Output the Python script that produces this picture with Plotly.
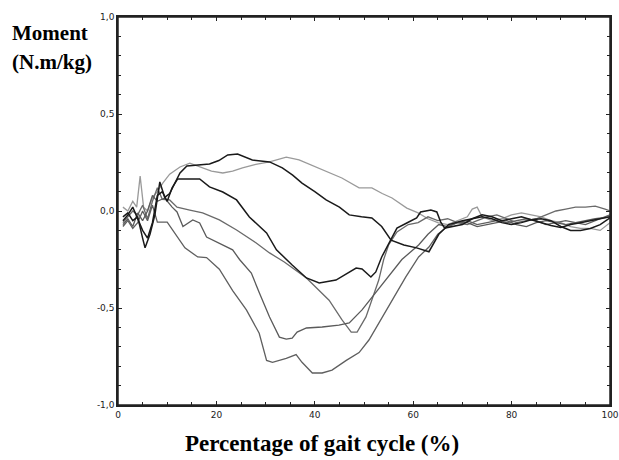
import plotly.graph_objects as go

# ---- data (x = % of gait cycle, y = moment N.m/kg) ----
a_x = [1, 2, 3, 4, 5, 5.5, 6.5, 7.5, 8.5, 9.5, 10.5, 11.5, 12.6, 14, 16, 18.6, 20.5, 22.3, 24.3, 27.3, 30.8, 33.4, 35.5, 37.4, 40, 42.3, 45, 47, 49.5, 51.6, 53.6, 55.5, 58.1, 60.7, 63.2, 65.2, 67.2, 70, 72, 74, 76, 78, 80, 82, 84, 86, 88, 90, 92, 94, 96, 98, 100]
a_y = [-0.03, -0.01, -0.05, -0.03, -0.14, -0.19, -0.12, -0.02, 0.15, 0.07, 0.09, 0.14, 0.196, 0.232, 0.235, 0.242, 0.26, 0.289, 0.294, 0.263, 0.253, 0.222, 0.185, 0.144, 0.1, 0.057, 0.02, -0.02, -0.03, -0.036, -0.08, -0.15, -0.175, -0.19, -0.21, -0.12, -0.07, -0.05, -0.04, -0.03, -0.04, -0.06, -0.07, -0.06, -0.045, -0.04, -0.05, -0.08, -0.1, -0.1, -0.09, -0.07, -0.035]

b_x = [1, 2, 3, 3.8, 4.5, 5.2, 6, 7, 8, 9.1, 10.5, 12.6, 14.6, 16.6, 19, 21.3, 23.3, 25.3, 28, 30.8, 34.2, 36.8, 39, 41.5, 43.5, 45.5, 49, 51.6, 53.7, 55.7, 58.7, 61, 63, 65, 67, 69, 71, 72, 73, 74, 76, 78, 80, 82, 84, 86, 88, 90, 92, 94, 96, 98, 100]
b_y = [0.02, 0.0, 0.05, 0.02, 0.18, 0.02, 0.0, 0.07, 0.1, 0.144, 0.19, 0.227, 0.247, 0.227, 0.205, 0.196, 0.205, 0.222, 0.24, 0.253, 0.278, 0.263, 0.24, 0.211, 0.19, 0.17, 0.119, 0.119, 0.09, 0.067, 0.015, -0.01, -0.04, -0.06, -0.07, -0.05, -0.03, 0.01, 0.02, -0.03, -0.05, -0.04, -0.02, -0.01, -0.02, -0.03, -0.05, -0.06, -0.08, -0.09, -0.09, -0.1, -0.06]

c_x = [1, 2, 3, 4, 5, 6, 7, 8, 9, 10, 11, 12.1, 14.6, 16.6, 18.6, 21.3, 24.1, 26.7, 30.2, 32.2, 35.4, 38.3, 40.9, 44.3, 48.4, 49.6, 51.4, 52.4, 53.6, 55.1, 56.7, 58.7, 60.7, 61.5, 63.6, 64.8, 65.6, 66.4, 68, 70, 72, 74, 76, 78, 80, 82, 84, 86, 88, 90, 92, 94, 96, 98, 100]
c_y = [-0.05, -0.02, 0.02, -0.04, -0.1, -0.14, -0.06, 0.08, 0.1, 0.05, 0.12, 0.165, 0.165, 0.165, 0.124, 0.098, 0.057, -0.031, -0.113, -0.2, -0.278, -0.345, -0.371, -0.356, -0.294, -0.299, -0.34, -0.314, -0.237, -0.165, -0.088, -0.062, -0.036, -0.005, 0.005, -0.005, -0.057, -0.088, -0.08, -0.07, -0.04, -0.02, -0.03, -0.05, -0.04, -0.03, -0.045, -0.06, -0.075, -0.085, -0.07, -0.06, -0.05, -0.04, -0.03]

f_x = [1, 2, 3, 4, 5, 6, 7, 8, 9, 10.5, 12, 14.6, 17.2, 20.6, 24.1, 28.1, 30.8, 33.8, 38.3, 42.9, 45.5, 47.4, 48.6, 50.4, 51.6, 53, 54, 55, 56.7, 59, 61, 63, 65, 67, 69, 71, 73, 75, 77, 79, 81, 83, 85, 87, 89, 91, 93, 95, 97, 99, 100]
f_y = [-0.06, -0.03, 0.0, -0.02, 0.03, -0.04, 0.05, 0.12, 0.06, 0.057, 0.02, 0.005, -0.01, -0.046, -0.098, -0.165, -0.216, -0.263, -0.345, -0.46, -0.56, -0.624, -0.624, -0.546, -0.46, -0.356, -0.25, -0.175, -0.108, -0.07, -0.06, -0.03, -0.05, -0.04, -0.06, -0.07, -0.05, -0.03, -0.02, -0.04, -0.06, -0.05, -0.04, -0.02, 0.0, 0.01, 0.02, 0.02, 0.025, 0.01, 0.0]

g_x = [1, 2, 3, 4, 5, 6, 7, 8, 9.5, 11, 12, 13.2, 15.2, 16.6, 18, 20.6, 23.3, 24.7, 27.1, 28.7, 30.8, 32.8, 34.2, 35.4, 36.4, 38.3, 41.5, 44.9, 47, 49.6, 52.4, 55, 57.7, 61.1, 63, 65.2, 67, 69, 71, 73, 75, 77, 79, 81, 83, 85, 87, 89, 91, 93, 95, 97, 100]
g_y = [-0.07, -0.04, -0.08, -0.01, -0.05, 0.0, 0.08, 0.05, 0.067, 0.02, -0.005, -0.08, -0.046, -0.062, -0.134, -0.165, -0.2, -0.25, -0.32, -0.42, -0.546, -0.65, -0.66, -0.655, -0.624, -0.603, -0.598, -0.588, -0.577, -0.51, -0.42, -0.34, -0.25, -0.175, -0.12, -0.07, -0.08, -0.06, -0.06, -0.08, -0.07, -0.06, -0.05, -0.07, -0.08, -0.06, -0.05, -0.06, -0.07, -0.06, -0.05, -0.04, -0.03]

e_x = [1, 2, 3, 4, 5, 6, 7, 8, 10, 12, 13.6, 16.2, 18, 20.6, 23.3, 26.1, 28.7, 30.2, 31.4, 34.2, 36.2, 37.4, 39.5, 41.5, 43.5, 46.4, 49, 51, 53, 55.7, 58.5, 61.1, 63.2, 65, 67, 69, 71, 73, 75, 77, 79, 81, 83, 85, 87, 89, 91, 93, 95, 97, 100]
e_y = [-0.08, -0.05, -0.09, -0.06, 0.0, -0.05, 0.03, -0.057, -0.057, -0.13, -0.19, -0.237, -0.24, -0.3, -0.41, -0.51, -0.63, -0.77, -0.78, -0.76, -0.74, -0.78, -0.835, -0.835, -0.82, -0.77, -0.73, -0.665, -0.577, -0.46, -0.34, -0.237, -0.186, -0.12, -0.08, -0.06, -0.05, -0.07, -0.06, -0.05, -0.06, -0.05, -0.04, -0.05, -0.07, -0.06, -0.05, -0.06, -0.07, -0.05, -0.02]

y_tickvals = [1.0, 0.5, 0.0, -0.5, -1.0]
y_ticktext = ["1,0", "0,5", "0,0", "-0,5", "-1,0"]
x_tickvals = [0, 20, 40, 60, 80, 100]
x_ticktext = ["0", "20", "40", "60", "80", "100"]

series = [
    (b_x, b_y, "#9a9a9a", 1.3),
    (f_x, f_y, "#6a6a6a", 1.3),
    (g_x, g_y, "#5a5a5a", 1.3),
    (e_x, e_y, "#5f5f5f", 1.3),
    (c_x, c_y, "#1a1a1a", 1.5),
    (a_x, a_y, "#1a1a1a", 1.5),
]

fig = go.Figure()
for xs, ys, col, w in series:
    fig.add_trace(go.Scatter(x=xs, y=ys, mode="lines",
                             line=dict(color=col, width=w),
                             showlegend=False, hoverinfo="skip"))

W, H = 619, 460
L, R, T, B = 118, 9, 17, 55
pw, ph = W - L - R, H - T - B

axis_font = dict(family="DejaVu Sans", size=9, color="#222")
common = dict(ticks="inside", ticklen=4, tickcolor="#222",
              showline=True, linecolor="#222", linewidth=1.5, mirror="ticks",
              showgrid=False, zeroline=False, tickfont=axis_font)
fig.update_layout(
    width=W, height=H,
    margin=dict(l=L, r=R, t=T, b=B, autoexpand=False),
    paper_bgcolor="white", plot_bgcolor="white",
    xaxis=dict(range=[0, 100], tickvals=x_tickvals, ticktext=x_ticktext,
               minor=dict(tickvals=[v for v in range(0, 101, 5) if v % 20], ticks="inside", ticklen=3, tickcolor="#222"),
               **common),
    yaxis=dict(range=[-1.0, 1.0], tickvals=y_tickvals, ticktext=y_ticktext,
               minor=dict(dtick=0.1, tick0=0, ticks="inside", ticklen=3, tickcolor="#222"),
               **common),
    shapes=[dict(type="rect", xref="paper", yref="paper", x0=0, y0=0, x1=1, y1=1,
                 line=dict(color="#222", width=1.5), layer="above")],
    annotations=[
        dict(text="<b>Moment</b>", xref="paper", yref="paper",
             x=(10 - L) / pw, y=1 - (33 - T) / ph, xanchor="left", yanchor="middle",
             showarrow=False, align="left",
             font=dict(family="Liberation Serif", size=21, color="black")),
        dict(text="<b>(N.m/kg)</b>", xref="paper", yref="paper",
             x=(10 - L) / pw, y=1 - (62 - T) / ph, xanchor="left", yanchor="middle",
             showarrow=False, align="left",
             font=dict(family="Liberation Serif", size=21, color="black")),
        dict(text="<b>Percentage of gait cycle (%)</b>", xref="paper", yref="paper",
             x=(322 - L) / pw, y=-(443 - (H - B)) / ph, xanchor="center", yanchor="middle",
             showarrow=False,
             font=dict(family="Liberation Serif", size=23, color="black")),
    ],
)

fig.write_html("out.html", config={"displayModeBar": False},
               post_script="document.body.style.margin='0px';")
